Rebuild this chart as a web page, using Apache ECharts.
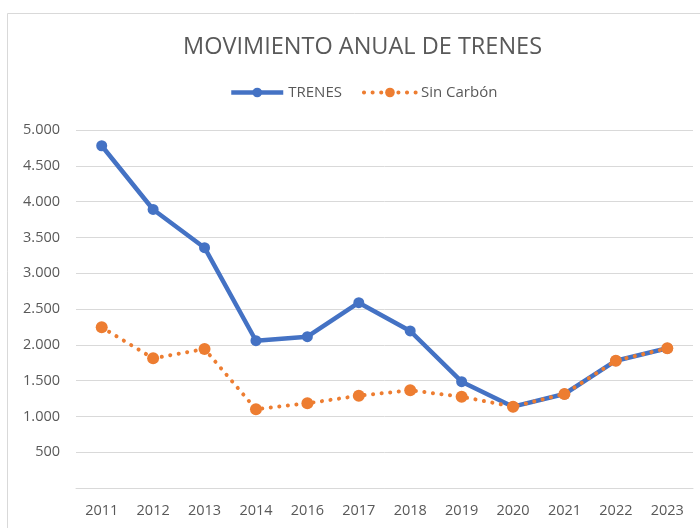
<!DOCTYPE html>
<html>
<head>
<meta charset="utf-8">
<script src="https://cdn.jsdelivr.net/npm/echarts@6/dist/echarts.min.js"></script>
<style>
  html, body { margin: 0; padding: 0; background: #fff; }
  #chart { width: 700px; height: 528px; }
</style>
</head>
<body>
<div id="chart"></div>
<script>
// Data
const years = ['2011', '2012', '2013', '2014', '2016', '2017', '2018', '2019', '2020', '2021', '2022', '2023'];
const trenes = [4780, 3890, 3356, 2057, 2113, 2588, 2193, 1485, 1136, 1313, 1778, 1951];
const sinCarbon = [2244, 1811, 1941, 1099, 1183, 1289, 1364, 1275, 1136, 1313, 1778, 1951];

const textColor = '#595959';
const fontFamily = '"Open Sans", "Noto Sans", sans-serif';
const blue = '#4472C4';
const orange = '#ED7D31';
const dots = [0.1, 8.5];

const chart = echarts.init(document.getElementById('chart'), null, { renderer: 'canvas' });

chart.setOption({
  backgroundColor: '#fff',
  textStyle: { fontFamily: fontFamily },
  graphic: [
    {
      type: 'rect',
      shape: { x: 7.5, y: 13.5, width: 720, height: 540 },
      style: { fill: 'none', stroke: '#d9d9d9', lineWidth: 1 },
      silent: true
    }
  ],
  title: {
    text: 'MOVIMIENTO ANUAL DE TRENES',
    left: 178,
    top: 30,
    textStyle: { color: textColor, fontSize: 23.5, fontWeight: 'normal', fontFamily: fontFamily }
  },
  legend: {
    top: 80,
    left: 224,
    itemWidth: 52,
    itemHeight: 12,
    itemGap: 20,
    textStyle: { color: textColor, fontSize: 15, fontFamily: fontFamily },
    data: [
      { name: 'TRENES', lineStyle: { width: 4.5, color: blue } },
      { name: 'Sin Carbón', lineStyle: { width: 4, color: orange, type: dots, cap: 'round' } }
    ]
  },
  grid: { left: 76, right: 7, top: 130, bottom: 40 },
  xAxis: {
    type: 'category',
    data: years,
    boundaryGap: true,
    axisLine: { show: true, lineStyle: { color: '#d9d9d9', width: 1 } },
    axisTick: { show: false },
    axisLabel: { color: textColor, fontSize: 14.5, margin: 15 }
  },
  yAxis: {
    type: 'value',
    min: 0,
    max: 5000,
    interval: 500,
    axisLine: { show: false },
    axisTick: { show: false },
    splitLine: { lineStyle: { color: '#d9d9d9', width: 1 } },
    axisLabel: {
      color: textColor,
      fontSize: 14.5,
      margin: 16,
      formatter: v => v === 0 ? '' : v.toLocaleString('de-DE')
    }
  },
  series: [
    {
      name: 'TRENES',
      type: 'line',
      data: trenes,
      color: blue,
      symbol: 'circle',
      symbolSize: 11,
      lineStyle: { width: 4.5, color: blue },
      itemStyle: { color: blue },
      z: 2
    },
    {
      name: 'Sin Carbón',
      type: 'line',
      data: sinCarbon,
      color: orange,
      symbol: 'circle',
      symbolSize: 12,
      lineStyle: { width: 4, color: orange, type: dots, cap: 'round' },
      itemStyle: { color: orange },
      z: 3
    }
  ]
});
</script>
</body>
</html>
